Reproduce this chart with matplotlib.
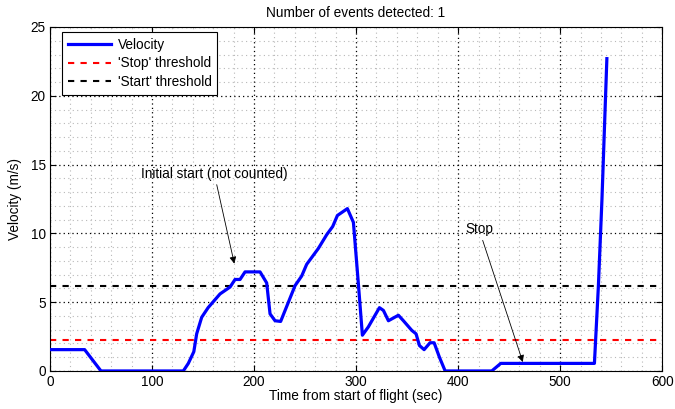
import matplotlib
matplotlib.use('Agg')
import matplotlib.pyplot as plt
from matplotlib.ticker import MultipleLocator

plt.rcParams['font.family'] = ['Liberation Sans', 'DejaVu Sans']

# velocity trace
time_s = [0, 34, 50, 130.7, 135.6, 141, 143.8, 148.7, 155, 166.7, 176.5, 181.4,
          186.3, 191.2, 205.9, 212.4, 215.7, 220.6, 226.1, 233.7, 240.2, 246.7,
          251.6, 263, 271.2, 277.1, 281.7, 291.5, 297.4, 302.3, 306.2, 312,
          322.9, 326.8, 331.7, 341.5, 346.4, 354.6, 358.8, 362.1, 366.7, 372.5,
          376.5, 381.7, 387.3, 433, 441.8, 533.6, 537.5, 541, 545.8]
velocity = [1.55, 1.55, 0, 0, 0.55, 1.4, 2.7, 3.9, 4.6, 5.6, 6.1, 6.65,
            6.65, 7.2, 7.2, 6.4, 4.15, 3.65, 3.6, 5.0, 6.2, 6.9,
            7.75, 8.9, 9.9, 10.5, 11.3, 11.8, 10.8, 6.3, 2.6, 3.2,
            4.6, 4.4, 3.65, 4.05, 3.65, 2.95, 2.7, 1.85, 1.55, 2.05,
            2.05, 1.0, 0, 0, 0.55, 0.55, 6.2, 12.5, 22.7]

stop_threshold = 2.25
start_threshold = 6.2
n_events = 1

FS = 9.8

fig = plt.figure(figsize=(6.75, 4.09), dpi=100)
ax = fig.add_axes([0.074, 0.093, 0.907, 0.841])

ax.plot(time_s, velocity, color='#0000ff', lw=2.3, label='Velocity', zorder=3)
ax.axhline(stop_threshold, color='#ff0000', ls=(0, (3, 3)), lw=1.5, label="'Stop' threshold")
ax.axhline(start_threshold, color='black', ls=(0, (3, 3)), lw=1.5, label="'Start' threshold")

ax.set_xlim(0, 600)
ax.set_ylim(0, 25)
ax.xaxis.set_major_locator(MultipleLocator(100))
ax.xaxis.set_minor_locator(MultipleLocator(20))
ax.yaxis.set_major_locator(MultipleLocator(5))
ax.yaxis.set_minor_locator(MultipleLocator(1))
ax.grid(which='major', color='black', ls=(0, (1, 2.5)), lw=0.9)
ax.grid(which='minor', color='#b8b8b8', ls=(0, (1, 3)), lw=0.8)
ax.tick_params(which='both', direction='in', top=True, right=True, labelsize=FS, pad=3)
ax.tick_params(which='major', length=4)
ax.tick_params(which='minor', length=0)
for s in ax.spines.values():
    s.set_linewidth(0.8)

ax.set_title('Number of events detected: %d' % n_events, fontsize=FS, pad=7)
ax.set_xlabel('Time from start of flight (sec)', fontsize=FS, labelpad=0)
ax.set_ylabel('Velocity (m/s)', fontsize=FS, labelpad=6)

arrow = dict(arrowstyle='-|>', color='black', lw=0.6, mutation_scale=10, shrinkA=1, shrinkB=0)
ax.annotate('Initial start (not counted)', xy=(180.7, 7.8), xytext=(161, 14.35),
            ha='center', va='center', fontsize=FS, arrowprops=arrow)
ax.annotate('Stop', xy=(463.4, 0.65), xytext=(420.5, 10.3),
            ha='center', va='center', fontsize=FS, arrowprops=arrow)

leg = ax.legend(loc='upper left', bbox_to_anchor=(0.02, 0.985), fontsize=FS,
                fancybox=False, framealpha=1, edgecolor='black', borderaxespad=0,
                handlelength=3.2, labelspacing=0.35, borderpad=0.4, handletextpad=0.5)
leg.get_frame().set_linewidth(0.8)

fig.savefig('out.png', dpi=100)
